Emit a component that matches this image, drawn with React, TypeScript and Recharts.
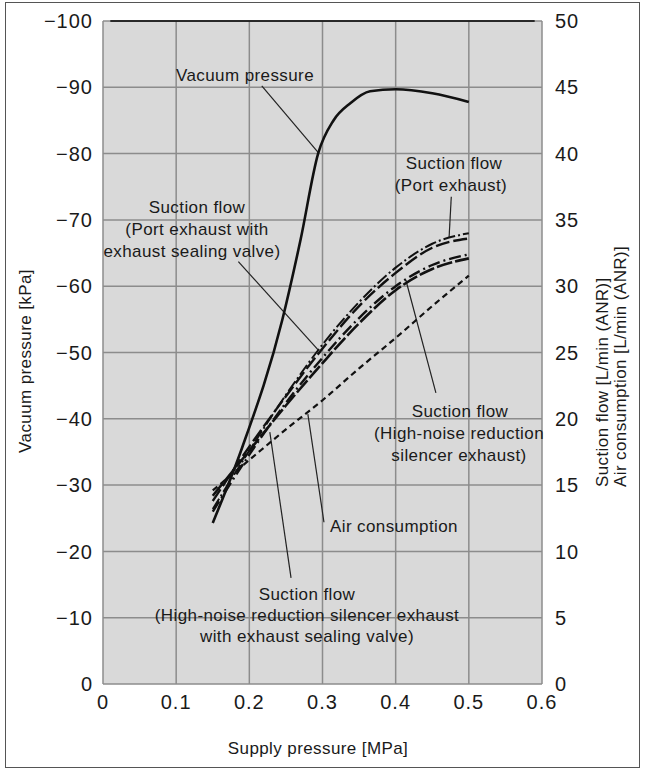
import {
  LineChart,
  Line,
  XAxis,
  YAxis,
  CartesianGrid,
  ReferenceLine,
} from "recharts";

// supply pressure [MPa] for the vacuum curve
const vacuumX = [0.15, 0.19, 0.245, 0.27, 0.294, 0.315, 0.338, 0.365, 0.4, 0.45, 0.5];
// vacuum pressure [kPa]
const vacuumY = [-24.3, -35.6, -54.9, -67, -80, -85, -87.6, -89.4, -89.7, -89.1, -87.8];

// supply pressure [MPa] for the flow curves
const flowX = [0.15, 0.2, 0.25, 0.3, 0.35, 0.4, 0.45, 0.5];
// suction flow / air consumption [L/min (ANR)]
const portExhaust = [13.2, 17.6, 21.8, 25.6, 28.8, 31.4, 33.2, 34.0];
const portExhaustValve = [13.8, 17.9, 21.7, 25.3, 28.5, 31.0, 32.9, 33.6];
const silencerExhaust = [13.0, 17.3, 21.2, 24.6, 27.6, 30.0, 31.6, 32.4];
const silencerExhaustValve = [14.2, 17.6, 21.0, 24.2, 27.2, 29.7, 31.3, 32.1];
const airConsumption = [14.6, 16.9, 19.2, 21.4, 23.8, 26.1, 28.5, 30.8];

const xTicks = [0, 0.1, 0.2, 0.3, 0.4, 0.5, 0.6];
const leftTicks = [-100, -90, -80, -70, -60, -50, -40, -30, -20, -10, 0];
const rightTicks = [0, 5, 10, 15, 20, 25, 30, 35, 40, 45, 50];

// leader lines from the notes to the curves (supply pressure, vacuum pressure)
const leaders = [
  [[0.217, -90.2], [0.294, -80.2]],
  [[0.476, -73.5], [0.473, -67.3]],
  [[0.185, -63.7], [0.294, -50.4]],
  [[0.414, -60.9], [0.455, -43.9]],
  [[0.28, -40.7], [0.302, -24.4]],
  [[0.228, -38.0], [0.257, -16.0]],
];

const FONT = '"Liberation Sans", Arial, sans-serif';
const INK = "#1a1a1a";

const pairs = (xs: number[], ys: number[]) => xs.map((x, i) => ({ x, y: ys[i] }));

const fmtLeft = (v: number) => (v === 0 ? "0" : "\u2212" + Math.abs(v));

export default function App() {
  const tick = { fill: INK, fontSize: 20, fontFamily: FONT, letterSpacing: 1 };

  return (
    <div style={{ position: "absolute", left: 0, top: 0, width: 646, height: 773, background: "#fff" }}>
      <div
        style={{
          position: "absolute",
          left: 5,
          top: 2,
          width: 635,
          height: 766,
          border: "1px solid #555",
          boxSizing: "border-box",
        }}
      />
      <div style={{ position: "absolute", left: 0, top: 0 }}>
        <LineChart width={646} height={773} margin={{ top: 21, right: 0, bottom: 0, left: 0 }}>
          <CartesianGrid
            yAxisId="left"
            stroke="#8c8c8c"
            strokeWidth={1.5}
            fill="#d9d9d9"
            fillOpacity={1}
            horizontalValues={leftTicks}
            verticalValues={xTicks}
          />
          <XAxis
            dataKey="x"
            type="number"
            domain={[0, 0.6]}
            ticks={xTicks}
            height={89}
            axisLine={false}
            tickLine={false}
            tickSize={0}
            tickMargin={11}
            tick={tick}
            allowDuplicatedCategory={false}
          />
          <YAxis
            yAxisId="left"
            type="number"
            domain={[-100, 0]}
            reversed
            ticks={leftTicks}
            tickFormatter={fmtLeft}
            width={103}
            axisLine={false}
            tickLine={false}
            tickSize={0}
            tickMargin={10}
            tick={tick}
          />
          <YAxis
            yAxisId="right"
            orientation="right"
            type="number"
            domain={[0, 50]}
            ticks={rightTicks}
            width={104}
            axisLine={false}
            tickLine={false}
            tickSize={0}
            tickMargin={13}
            tick={{ ...tick, textAnchor: "start" }}
          />
          <ReferenceLine
            yAxisId="left"
            segment={[{ x: 0.01, y: -100 }, { x: 0.59, y: -100 }]}
            stroke="#000"
            strokeWidth={1.5}
          />
          {leaders.map((seg, i) => (
            <ReferenceLine
              key={i}
              yAxisId="left"
              segment={[{ x: seg[0][0], y: seg[0][1] }, { x: seg[1][0], y: seg[1][1] }]}
              stroke="#222"
              strokeWidth={1.2}
            />
          ))}
          <Line
            yAxisId="right"
            data={pairs(flowX, airConsumption)}
            dataKey="y"
            type="monotone"
            stroke="#111"
            strokeWidth={2.2}
            strokeDasharray="6 4"
            dot={false}
            isAnimationActive={false}
          />
          <Line
            yAxisId="right"
            data={pairs(flowX, silencerExhaustValve)}
            dataKey="y"
            type="monotone"
            stroke="#111"
            strokeWidth={2.6}
            strokeDasharray="16 3"
            dot={false}
            isAnimationActive={false}
          />
          <Line
            yAxisId="right"
            data={pairs(flowX, silencerExhaust)}
            dataKey="y"
            type="monotone"
            stroke="#111"
            strokeWidth={2.4}
            strokeDasharray="12 4 2 4"
            dot={false}
            isAnimationActive={false}
          />
          <Line
            yAxisId="right"
            data={pairs(flowX, portExhaustValve)}
            dataKey="y"
            type="monotone"
            stroke="#111"
            strokeWidth={2.4}
            strokeDasharray="14 4"
            dot={false}
            isAnimationActive={false}
          />
          <Line
            yAxisId="right"
            data={pairs(flowX, portExhaust)}
            dataKey="y"
            type="monotone"
            stroke="#111"
            strokeWidth={2}
            strokeDasharray="12 3 2 3"
            dot={false}
            isAnimationActive={false}
          />
          <Line
            yAxisId="left"
            data={pairs(vacuumX, vacuumY)}
            dataKey="y"
            type="monotone"
            stroke="#111"
            strokeWidth={2.6}
            dot={false}
            isAnimationActive={false}
          />
        </LineChart>
      </div>
      <svg
        width={646}
        height={773}
        style={{ position: "absolute", left: 0, top: 0, pointerEvents: "none" }}
        fontFamily={FONT}
        fill={INK}
        fontSize={17}
        letterSpacing={0.4}
      >
        <g textAnchor="middle" dominantBaseline="central">
          <text x={245} y={75}>Vacuum pressure</text>
          <text x={454} y={163}>Suction flow</text>
          <text x={451} y={185}>(Port exhaust)</text>
          <text x={197} y={207}>Suction flow</text>
          <text x={197} y={229}>(Port exhaust with</text>
          <text x={192} y={251}>exhaust sealing valve)</text>
          <text x={460} y={411}>Suction flow</text>
          <text x={459} y={433}>(High-noise reduction</text>
          <text x={459} y={455}>silencer exhaust)</text>
          <text x={307} y={594}>Suction flow</text>
          <text x={307} y={615}>(High-noise reduction silencer exhaust</text>
          <text x={307} y={636}>with exhaust sealing valve)</text>
          <text x={318} y={748}>Supply pressure [MPa]</text>
          <text x={25} y={361} transform="rotate(-90 25 361)">Vacuum pressure [kPa]</text>
        </g>
        <text x={330} y={526} dominantBaseline="central">Air consumption</text>
        <g dominantBaseline="central">
          <text x={602} y={487} transform="rotate(-90 602 487)">Suction flow [L/min (ANR)]</text>
          <text x={620} y={487} transform="rotate(-90 620 487)">Air consumption [L/min (ANR)]</text>
        </g>
      </svg>
    </div>
  );
}
